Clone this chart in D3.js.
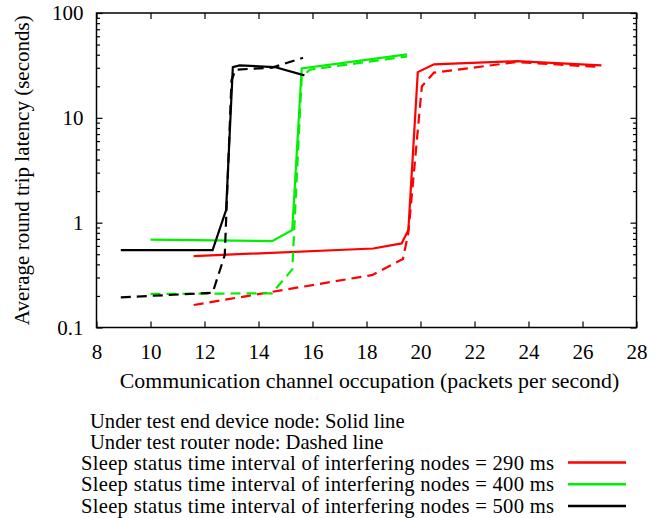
<!DOCTYPE html>
<html><head><meta charset="utf-8">
<script src="https://cdn.jsdelivr.net/npm/d3@7/dist/d3.min.js"></script>
<style>body{margin:0;background:#fff}svg{display:block}</style>
</head><body><svg id="c" width="663" height="518"></svg>
<script>
const xTicks = [8,10,12,14,16,18,20,22,24,26,28];
const yTicks = [0.1,1,10,100];
const yTickLabels = ["0.1","1","10","100"];
const seriesLabels = [
  "Sleep status time interval of interfering nodes = 290 ms",
  "Sleep status time interval of interfering nodes = 400 ms",
  "Sleep status time interval of interfering nodes = 500 ms"];
const seriesColors = ["#ff0000","#00f000","#000000"];
const noteLines = ["Under test end device node: Solid line","Under test router node: Dashed line"];

const red290SolidX  = [11.6, 18.25, 19.3, 19.55, 19.9, 20.5, 23.55, 26.7];
const red290SolidY  = [0.48, 0.567, 0.634, 0.85, 27.3, 32.4, 34.7, 31.6];
const red290DashedX = [11.6, 18.2, 19.35, 19.55, 20.05, 20.5, 23.55, 26.7];
const red290DashedY = [0.164, 0.316, 0.45, 0.8, 20, 27, 34, 30.5];
const green400SolidX  = [10.0, 14.5, 15.25, 15.6, 19.5];
const green400SolidY  = [0.69, 0.667, 0.85, 29.6, 40.3];
const green400DashedX = [10.0, 14.5, 15.25, 15.6, 15.9, 19.5];
const green400DashedY = [0.209, 0.212, 0.358, 24.5, 28.8, 38.5];
const black500SolidX  = [8.9, 12.3, 12.8, 13.05, 13.3, 14.6, 15.7];
const black500SolidY  = [0.547, 0.547, 1.32, 30.5, 31.6, 30.5, 25.4];
const black500DashedX = [8.9, 12.3, 12.75, 13.0, 13.15, 14.5, 15.65];
const black500DashedY = [0.194, 0.214, 0.49, 22.8, 28.8, 30.1, 37.4];

const series = [
  {x:red290SolidX, y:red290SolidY, c:0, dash:false},
  {x:red290DashedX, y:red290DashedY, c:0, dash:true},
  {x:green400SolidX, y:green400SolidY, c:1, dash:false},
  {x:green400DashedX, y:green400DashedY, c:1, dash:true},
  {x:black500SolidX, y:black500SolidY, c:2, dash:false},
  {x:black500DashedX, y:black500DashedY, c:2, dash:true}
];

const FONT = "'Liberation Serif','Times New Roman',serif";
const FS = 21;
const L = 96.5, R = 636.5, T = 13, B = 327.5;
const svg = d3.select("#c");
svg.append("rect").attr("width",663).attr("height",518).attr("fill","#fff");

const x = d3.scaleLinear().domain([8,28]).range([L,R]);
const y = d3.scaleLog().domain([0.1,100]).range([B,T]);

const minors = [];
for (let d of [0.1,1,10]) for (let k=2;k<=9;k++) minors.push(d*k);

function styleAxis(g){ g.select(".domain").remove(); g.selectAll("line").attr("stroke","#000").attr("stroke-width",1.2);
  g.selectAll("text").attr("font-family",FONT).attr("font-size",FS).attr("fill","#000"); }

svg.append("g").attr("transform",`translate(0,${B})`)
  .call(d3.axisBottom(x).tickValues(xTicks).tickFormat(d3.format("d")).tickSize(-6).tickPadding(17))
  .call(styleAxis);
svg.append("g").attr("transform",`translate(0,${T})`)
  .call(d3.axisTop(x).tickValues(xTicks).tickFormat("").tickSize(-6)).call(styleAxis);
svg.append("g").attr("transform",`translate(${L},0)`)
  .call(d3.axisLeft(y).tickValues(yTicks).tickFormat((d,i)=>yTickLabels[i]).tickSize(-6).tickPadding(13))
  .call(styleAxis);
svg.append("g").attr("transform",`translate(${L},0)`)
  .call(d3.axisLeft(y).tickValues(minors).tickFormat("").tickSize(-3.5)).call(styleAxis);
svg.append("g").attr("transform",`translate(${R},0)`)
  .call(d3.axisRight(y).tickValues(yTicks).tickFormat("").tickSize(-6)).call(styleAxis);
svg.append("g").attr("transform",`translate(${R},0)`)
  .call(d3.axisRight(y).tickValues(minors).tickFormat("").tickSize(-3.5)).call(styleAxis);

const line = d3.line().x(d=>x(d[0])).y(d=>y(d[1]));
series.forEach(s=>{
  const pts = s.x.map((v,i)=>[v,s.y[i]]);
  svg.append("path").attr("d",line(pts)).attr("fill","none")
    .attr("stroke",seriesColors[s.c]).attr("stroke-width",2.2)
    .attr("stroke-linejoin","miter")
    .attr("stroke-dasharray", s.dash ? "10,6" : null);
});

svg.append("rect").attr("x",L).attr("y",T).attr("width",R-L).attr("height",B-T)
  .attr("fill","none").attr("stroke","#000").attr("stroke-width",1.5);

svg.append("text").attr("x",(L+R)/2+3).attr("y",388).attr("text-anchor","middle")
  .attr("font-family",FONT).attr("font-size",21.8).text("Communication channel occupation (packets per second)");
svg.append("text").attr("transform",`translate(29,${(T+B)/2}) rotate(-90)`).attr("text-anchor","middle")
  .attr("font-family",FONT).attr("font-size",FS).text("Average round trip latency (seconds)");

const LFS = 20.6;
noteLines.forEach((t,i)=>{
  svg.append("text").attr("x",90).attr("y",428+i*21).attr("font-family",FONT).attr("font-size",LFS).text(t);
});
seriesLabels.forEach((t,i)=>{
  const yy = 462.5 + i*21.7;
  svg.append("text").attr("x",554).attr("y",yy+7).attr("text-anchor","end")
    .attr("textLength",473).attr("lengthAdjust","spacing")
    .attr("font-family",FONT).attr("font-size",LFS).text(t);
  svg.append("line").attr("x1",568).attr("x2",626).attr("y1",yy).attr("y2",yy)
    .attr("stroke",seriesColors[i]).attr("stroke-width",2.5);
});
</script></body></html>
